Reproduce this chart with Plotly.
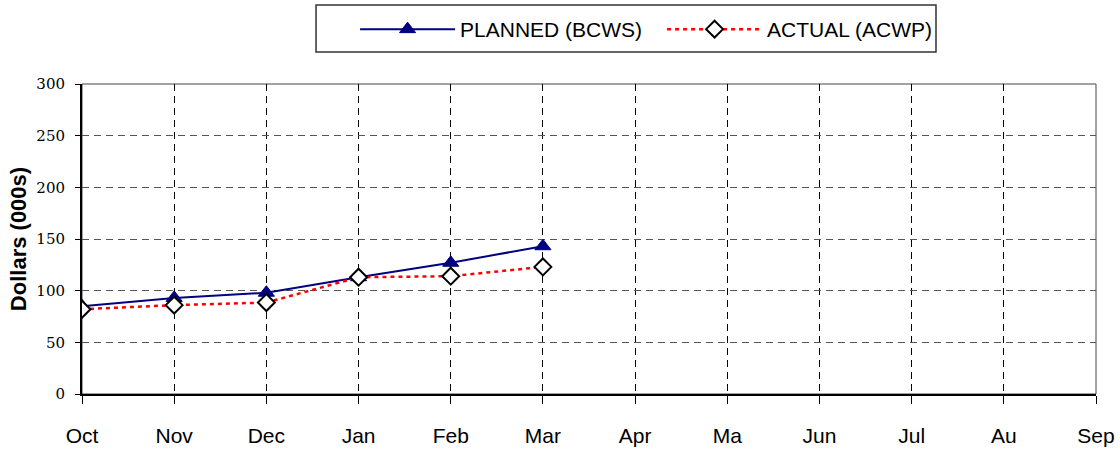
import plotly.graph_objects as go

months = ["Oct", "Nov", "Dec", "Jan", "Feb", "Mar", "Apr", "Ma", "Jun", "Jul", "Au", "Sep"]
planned_bcws = [85, 93, 98, 113, 127, 143]
actual_acwp = [82, 86, 88.5, 113, 114, 123]
y_ticks = [0, 50, 100, 150, 200, 250, 300]

fig = go.Figure()

fig.add_trace(go.Scatter(
    x=months[:len(planned_bcws)], y=planned_bcws,
    name="PLANNED (BCWS)",
    mode="lines+markers",
    line=dict(color="#000080", width=2),
    marker=dict(symbol="triangle-up", size=14, color="#000080",
                line=dict(color="#000080", width=1)),
))

fig.add_trace(go.Scatter(
    x=months[:len(actual_acwp)], y=actual_acwp,
    name="ACTUAL (ACWP)",
    mode="lines+markers",
    line=dict(color="#ff0000", width=2.5, dash="4px,4px"),
    marker=dict(symbol="diamond", size=13, color="white",
                line=dict(color="black", width=2)),
))

# grey frame around the plotting area
fig.add_shape(type="rect", xref="paper", yref="paper", x0=0, y0=0, x1=1, y1=1,
              line=dict(color="#444444", width=1), fillcolor="rgba(0,0,0,0)", layer="below")

# box drawn around the legend entries
fig.add_shape(type="rect", xref="paper", yref="paper",
              x0=0.2308, x1=0.8422, y0=1.1032, y1=1.2548,
              line=dict(color="#333333", width=1.5), fillcolor="white", layer="below")

fig.update_layout(
    width=1120, height=451,
    margin=dict(l=82, r=24, t=84, b=57, autoexpand=False),
    paper_bgcolor="white", plot_bgcolor="white",
    font=dict(family="Liberation Sans, Arial, sans-serif", color="black"),
    showlegend=True,
    legend=dict(
        orientation="h",
        x=0.2693, xanchor="left",
        y=1.242, yanchor="top",
        borderwidth=0,
        bgcolor="rgba(0,0,0,0)",
        font=dict(size=21, family="Liberation Sans, Arial, sans-serif"),
        itemwidth=95,
        entrywidth=197,
    ),
    xaxis=dict(
        type="category",
        categoryorder="array", categoryarray=months,
        tickvals=months, ticktext=months,
        range=[0, len(months) - 1],
        automargin=False,
        showgrid=True, gridcolor="black", gridwidth=1, griddash="7px,5px",
        showline=True, linecolor="black", linewidth=2,
        ticks="outside", ticklen=8, tickcolor="black", tickwidth=1,
        tickfont=dict(size=21, family="Liberation Sans, Arial, sans-serif"),
        ticklabelstandoff=14,
        zeroline=False,
    ),
    yaxis=dict(
        range=[0, 300],
        tickvals=y_ticks,
        automargin=False,
        showgrid=True, gridcolor="#555555", gridwidth=1, griddash="7px,5px",
        showline=True, linecolor="black", linewidth=2,
        ticks="outside", ticklen=5, tickcolor="black", tickwidth=1,
        tickfont=dict(size=15, family="DejaVu Serif, serif"),
        ticklabelstandoff=7,
        zeroline=False,
        title=dict(text="<b>Dollars (000s)</b>", standoff=4,
                   font=dict(size=22, family="Liberation Sans, Arial, sans-serif")),
    ),
)

fig.write_html("out.html")
